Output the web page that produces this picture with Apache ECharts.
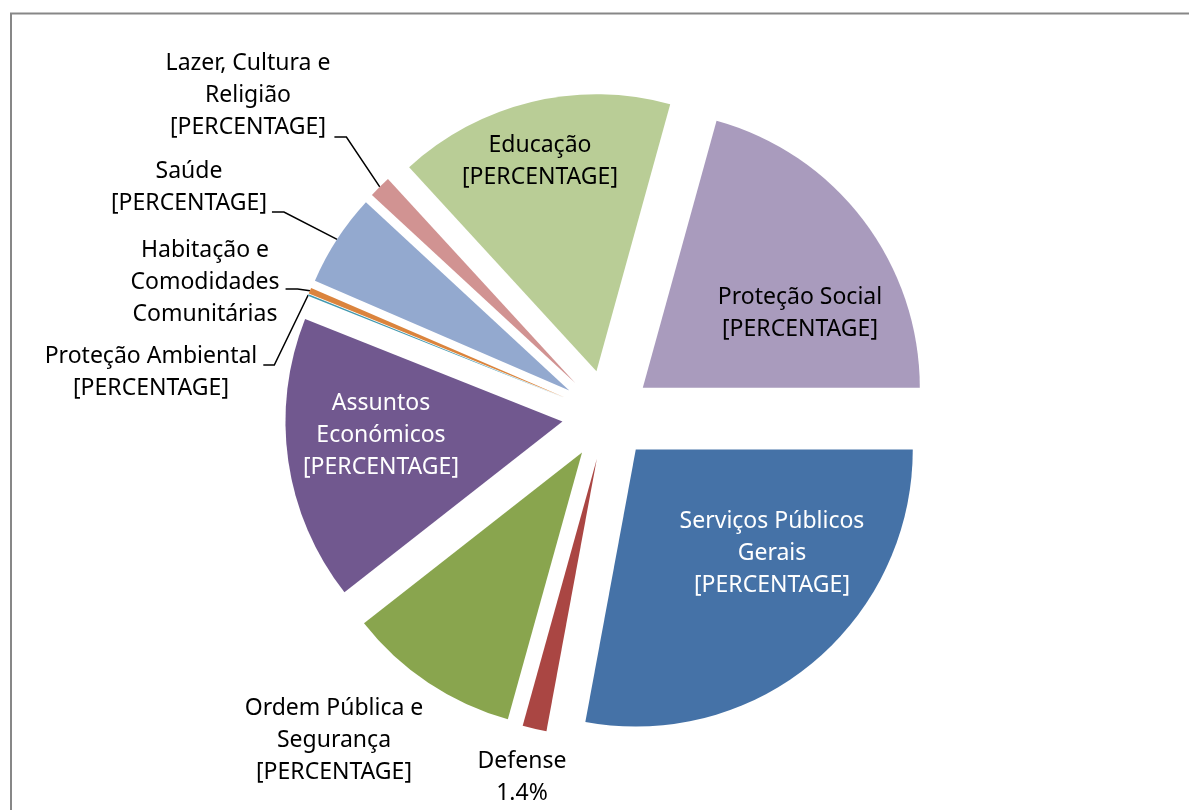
<!DOCTYPE html>
<html><head><meta charset="utf-8">
<script src="https://cdn.jsdelivr.net/npm/echarts@6/dist/echarts.min.js"></script>
<style>html,body{margin:0;padding:0;background:#fff}#c{width:1189px;height:810px}</style>
</head><body><div id="c"></div>
<script>
// ---- data ----
const categories = ['Serviços Públicos Gerais', 'Defense', 'Ordem Pública e Segurança', 'Assuntos Económicos', 'Proteção Ambiental', 'Habitação e Comodidades Comunitárias', 'Saúde', 'Lazer, Cultura e Religião', 'Educação', 'Proteção Social'];
const values = [27.9, 1.4, 10.1, 16.6, 0.1, 0.35, 5.4, 1.3, 16.1, 20.7];
const labelTexts = ['Serviços Públicos\nGerais\n[PERCENTAGE]', 'Defense\n1.4%', 'Ordem Pública e\nSegurança\n[PERCENTAGE]', 'Assuntos\nEconómicos\n[PERCENTAGE]', 'Proteção Ambiental\n[PERCENTAGE]', 'Habitação e\nComodidades\nComunitárias', 'Saúde\n[PERCENTAGE]', 'Lazer, Cultura e\nReligião\n[PERCENTAGE]', 'Educação\n[PERCENTAGE]', 'Proteção Social\n[PERCENTAGE]'];

// ---- styles / layout ----
const colors = ['#4572A7', '#AA4643', '#89A54E', '#71588F', '#4198AF', '#DB843D', '#93A9CF', '#D19392', '#B9CD96', '#A99BBD'];
const labelColors = ['#fff', '#000', '#000', '#fff', '#000', '#000', '#000', '#000', '#000', '#000'];
const labelInside = [true, false, false, true, false, false, false, false, true, true];
const labelCenters = [[772, 553], [522, 777], [334, 740], [381, 435], [151, 372], [205, 282], [189, 187], [248, 95], [540, 161], [800, 313]];
const leaders = [null, null, null, null, { dy: -7, gap: 6, len: 11 }, { dy: 7, gap: 6, len: 12 }, { dy: 25, gap: 5, len: 12 }, { dy: 42, gap: 4, len: 12 }, null, null];
const pieCenter = [607, 415];
const pieRadius = 277;
const explode = 45;
const FONT = '"Noto Sans"';
const FONT_SIZE = 23;
const LINE_H = 32;

let labelsExploded = null;

const chart = echarts.init(document.getElementById('c'), null, { renderer: 'canvas' });
const data = categories.map((name, i) => ({
  name: name,
  value: values[i],
  selected: true,
  itemStyle: { color: colors[i] },
  label: {
    position: labelInside[i] ? 'inside' : 'outside',
    formatter: '{c|' + labelTexts[i].split('\n').join('}\n{c|') + '}',
    color: labelColors[i],
    rich: { c: { align: 'center', fontFamily: FONT, fontSize: FONT_SIZE, lineHeight: LINE_H, color: labelColors[i] } }
  },
  labelLine: { show: !!leaders[i] }
}));

chart.setOption({
  animation: false,
  backgroundColor: '#fff',
  graphic: [{
    type: 'rect', silent: true,
    shape: { x: 11, y: 13.5, width: 3000, height: 3000 },
    style: { fill: 'none', stroke: '#878787', lineWidth: 2 }
  }],
  series: [{
    type: 'pie',
    center: pieCenter,
    radius: [0, pieRadius],
    startAngle: 0,
    clockwise: true,
    selectedMode: 'multiple',
    selectedOffset: explode,
    avoidLabelOverlap: false,
    emphasis: { disabled: true },
    itemStyle: { borderWidth: 0 },
    label: {
      show: true,
      position: 'outside',
      fontFamily: FONT,
      fontSize: FONT_SIZE,
      lineHeight: LINE_H
    },
    labelLine: { show: true, length: 10, length2: 12, lineStyle: { color: '#000', width: 1.5 } },
    labelLayout: function (p) {
      const i = p.dataIndex;
      const c = labelCenters[i];
      const r = p.labelRect;
      const lc = [r.x + r.width / 2, r.y + r.height / 2];
      let ref = lc;
      if (!labelInside[i] && p.labelLinePoints && p.labelLinePoints[0]) ref = p.labelLinePoints[0];
      const vx = ref[0] - pieCenter[0], vy = ref[1] - pieCenter[1];
      const n = Math.hypot(vx, vy) || 1;
      const ux = vx / n, uy = vy / n;
      if (labelInside[i] && labelsExploded === null) labelsExploded = n > pieRadius / 2 + explode / 2;
      const shift = labelsExploded ? 0 : explode;
      const out = {
        dx: c[0] - (lc[0] + shift * ux),
        dy: c[1] - (lc[1] + shift * uy)
      };
      const L = leaders[i];
      if (L && p.labelLinePoints) {
        const p0 = p.labelLinePoints[0];
        const ox = explode * ux, oy = explode * uy;
        const sx = c[0] + r.width / 2 + L.gap;
        const sy = c[1] + L.dy;
        out.labelLinePoints = [[p0[0], p0[1]], [sx + L.len - ox, sy - oy], [sx - ox, sy - oy]];
      }
      return out;
    },
    data: data
  }]
});
</script>
</body></html>
